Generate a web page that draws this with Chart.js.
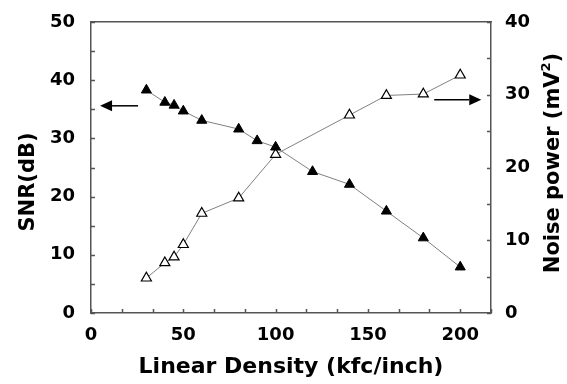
<!DOCTYPE html>
<html>
<head>
<meta charset="utf-8">
<script src="https://cdn.jsdelivr.net/npm/chart.js@4/dist/chart.umd.min.js"></script>
<style>
  html, body { margin: 0; padding: 0; background: #fff; }
  #wrap { width: 567px; height: 384px; }
</style>
</head>
<body>
<div id="wrap"><canvas id="c" width="567" height="384"></canvas></div>
<script>
// ---- data ----
const snrDensity = [30, 40, 45, 50, 60, 80, 90, 100, 120, 140, 160, 180, 200];
const snrValues = [38.3, 36.2, 35.7, 34.7, 33.1, 31.6, 29.6, 28.5, 24.3, 22.1, 17.5, 12.9, 7.9];
const noiseDensity = [30, 40, 45, 50, 60, 80, 100, 140, 160, 180, 200];
const noiseValues = [4.8, 6.9, 7.7, 9.4, 13.7, 15.8, 21.8, 27.2, 29.9, 30.1, 32.7];
const xTickLabels = [0, 50, 100, 150, 200];
const ySnrTickLabels = [0, 10, 20, 30, 40, 50];
const yNoiseTickLabels = [0, 10, 20, 30, 40];
const xTitle = 'Linear Density (kfc/inch)';
const ySnrTitle = 'SNR(dB)';
const yNoiseTitleMain = 'Noise power (mV';
const yNoiseTitleSup = '2';
const yNoiseTitleEnd = ')';
// arrows: [fromX, toX, y] in data units
const snrArrow = [25.5, 4.9, 35.6];
const noiseArrow = [185.9, 211.4, 29.3];

const FONT = 'DejaVu Sans';
const AXIS_COLOR = '#555';
const xMax = 650 / 3;

const tickPlugin = {
  id: 'inwardTicks',
  afterDraw(chart) {
    const ctx = chart.ctx;
    const ca = chart.chartArea;
    const len = 4;
    ctx.save();
    ctx.strokeStyle = AXIS_COLOR;
    ctx.lineWidth = 1.5;
    const sx = chart.scales.x, sy = chart.scales.y, sy2 = chart.scales.y2;
    ctx.beginPath();
    sx.ticks.forEach(t => {
      const px = Math.round(sx.getPixelForValue(t.value)) + 0.5;
      ctx.moveTo(px, ca.bottom); ctx.lineTo(px, ca.bottom - len);
    });
    sy.ticks.forEach(t => {
      const py = Math.round(sy.getPixelForValue(t.value)) + 0.5;
      ctx.moveTo(ca.left, py); ctx.lineTo(ca.left + len, py);
    });
    sy2.ticks.forEach(t => {
      const py = Math.round(sy2.getPixelForValue(t.value)) + 0.5;
      ctx.moveTo(ca.right, py); ctx.lineTo(ca.right - len, py);
    });
    ctx.stroke();

    // arrows
    const drawArrow = (x1, x2, y, yScale) => {
      const p1 = sx.getPixelForValue(x1), p2 = sx.getPixelForValue(x2);
      const py = yScale.getPixelForValue(y);
      const dir = Math.sign(p2 - p1);
      const head = 12, hw = 5.5;
      ctx.strokeStyle = '#000';
      ctx.fillStyle = '#000';
      ctx.lineWidth = 1.5;
      ctx.beginPath();
      ctx.moveTo(p1, py); ctx.lineTo(p2 - dir * head, py);
      ctx.stroke();
      ctx.beginPath();
      ctx.moveTo(p2, py);
      ctx.lineTo(p2 - dir * head, py - hw);
      ctx.lineTo(p2 - dir * head, py + hw);
      ctx.closePath();
      ctx.fill();
    };
    drawArrow(snrArrow[0], snrArrow[1], snrArrow[2], sy);
    drawArrow(noiseArrow[0], noiseArrow[1], noiseArrow[2], sy2);

    // y titles
    ctx.fillStyle = '#000';
    const mainFont = 'bold 21px "' + FONT + '"';
    const supFont = 'bold 13px "' + FONT + '"';
    ctx.font = mainFont;
    ctx.textAlign = 'center';
    ctx.textBaseline = 'middle';
    ctx.save();
    ctx.translate(ca.left - 62, ca.top + 160);
    ctx.rotate(-Math.PI / 2);
    ctx.fillText(ySnrTitle, 0, 0);
    ctx.restore();

    ctx.save();
    ctx.translate(ca.right + 60, ca.top + 141);
    ctx.rotate(-Math.PI / 2);
    ctx.textAlign = 'left';
    ctx.textBaseline = 'alphabetic';
    ctx.font = mainFont;
    const w1 = ctx.measureText(yNoiseTitleMain).width;
    const w3 = ctx.measureText(yNoiseTitleEnd).width;
    ctx.font = supFont;
    const w2 = ctx.measureText(yNoiseTitleSup).width;
    const total = w1 + w2 + w3;
    let x0 = -total / 2;
    const base = 7.5;
    ctx.font = mainFont;
    ctx.fillText(yNoiseTitleMain, x0, base);
    ctx.font = supFont;
    ctx.fillText(yNoiseTitleSup, x0 + w1, base - 9);
    ctx.font = mainFont;
    ctx.fillText(yNoiseTitleEnd, x0 + w1 + w2, base);
    ctx.restore();
    ctx.restore();
  }
};

const tickFont = { family: FONT, size: 18, weight: 'bold' };

new Chart(document.getElementById('c'), {
  type: 'line',
  data: {
    datasets: [
      {
        label: 'SNR',
        data: snrDensity.map((x, i) => ({ x, y: snrValues[i] })),
        yAxisID: 'y',
        borderColor: '#808080',
        borderWidth: 1,
        pointStyle: 'triangle',
        pointRadius: 5.8,
        pointBackgroundColor: '#000',
        pointBorderColor: '#000',
        pointBorderWidth: 1,
        fill: false,
        tension: 0
      },
      {
        label: 'Noise power',
        data: noiseDensity.map((x, i) => ({ x, y: noiseValues[i] })),
        yAxisID: 'y2',
        borderColor: '#808080',
        borderWidth: 1,
        pointStyle: 'triangle',
        pointRadius: 5.8,
        pointBackgroundColor: '#fff',
        pointBorderColor: '#000',
        pointBorderWidth: 1.2,
        fill: false,
        tension: 0
      }
    ]
  },
  options: {
    responsive: false,
    animation: false,
    layout: { padding: 0 },
    plugins: { legend: { display: false }, tooltip: { enabled: false } },
    scales: {
      x: {
        type: 'linear',
        position: 'bottom',
        min: 0,
        max: xMax,
        afterBuildTicks: s => {
          const ticks = [];
          for (let i = 0; i <= 13; i++) ticks.push({ value: i * 50 / 3 });
          s.ticks = ticks;
        },
        afterFit: s => { s.height = 71; },
        grid: { display: false },
        border: { display: true, color: AXIS_COLOR, width: 1.5 },
        ticks: {
          autoSkip: false,
          maxRotation: 0,
          padding: 4,
          color: '#000',
          font: tickFont,
          callback: v => {
            const hit = xTickLabels.find(l => Math.abs(l - v) < 1e-6);
            return hit === undefined ? '' : String(hit);
          }
        },
        title: {
          display: true,
          text: xTitle,
          color: '#000',
          font: { family: FONT, size: 22, weight: 'bold' },
          padding: { top: 0, bottom: 4 }
        }
      },
      xTop: {
        type: 'linear',
        position: 'top',
        min: 0,
        max: xMax,
        afterFit: s => { s.height = 22; },
        grid: { display: false },
        border: { display: true, color: AXIS_COLOR, width: 1.5 },
        ticks: { display: false }
      },
      y: {
        type: 'linear',
        position: 'left',
        min: 0,
        max: 50,
        afterFit: s => { s.width = 91; },
        grid: { display: false },
        border: { display: true, color: AXIS_COLOR, width: 1.5 },
        ticks: {
          stepSize: 5,
          padding: 8,
          color: '#000',
          font: tickFont,
          callback: v => ySnrTickLabels.includes(v) ? String(v) : ''
        }
      },
      y2: {
        type: 'linear',
        position: 'right',
        min: 0,
        max: 40,
        afterFit: s => { s.width = 76; },
        grid: { display: false },
        border: { display: true, color: AXIS_COLOR, width: 1.5 },
        ticks: {
          stepSize: 5,
          padding: 6,
          color: '#000',
          font: tickFont,
          callback: v => yNoiseTickLabels.includes(v) ? String(v) : ''
        }
      }
    }
  },
  plugins: [tickPlugin]
});
</script>
</body>
</html>
